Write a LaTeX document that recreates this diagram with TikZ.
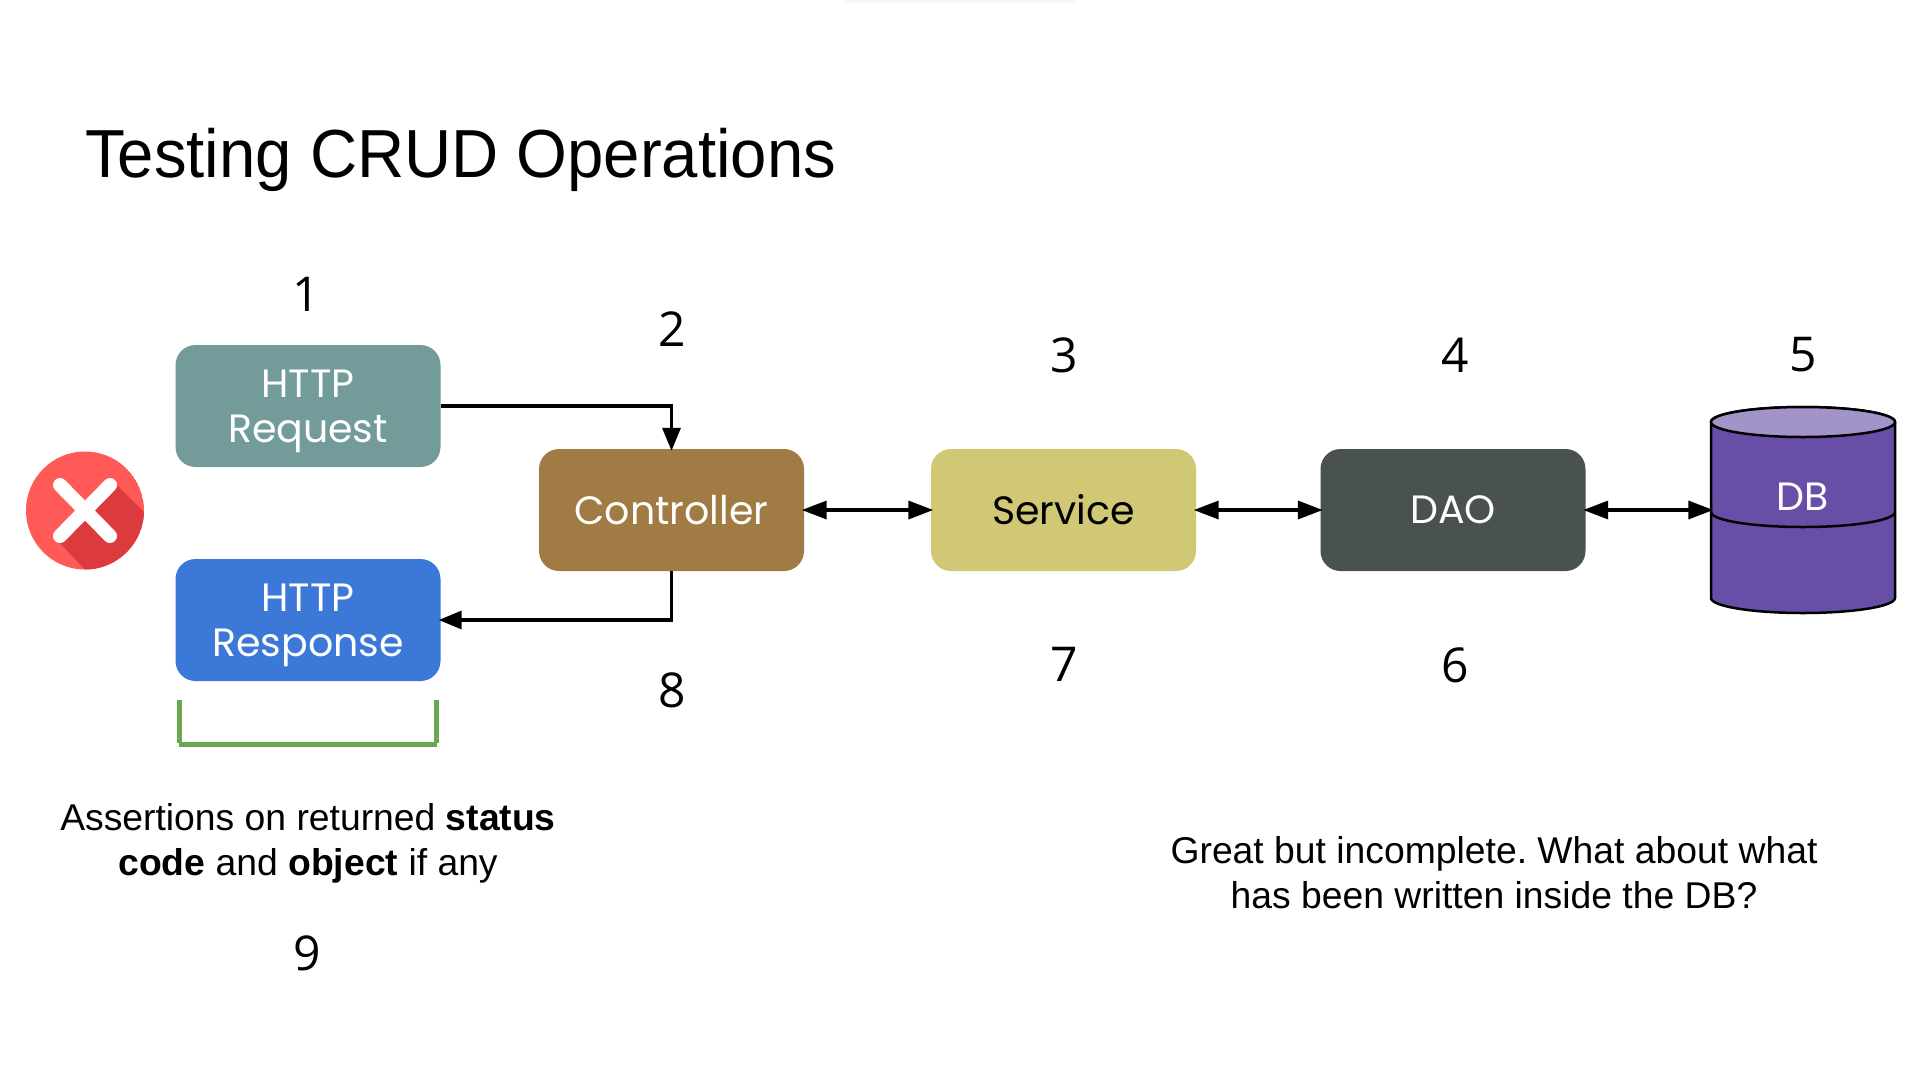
\documentclass[tikz,border=0pt]{standalone}
\usepackage{fontspec}
\setmainfont{Liberation Sans}
\newfontfamily\titlefont[FakeStretch=0.96]{Liberation Sans}
\newfontfamily\boxfont{Poppins}
\newfontfamily\numfont{Open Sans}
\usetikzlibrary{arrows.meta,shadings}
\definecolor{reqcol}{HTML}{739B99}
\definecolor{respcol}{HTML}{3C78D8}
\definecolor{ctrlcol}{HTML}{A07B43}
\definecolor{servcol}{HTML}{D0C875}
\definecolor{daocol}{HTML}{4A5250}
\definecolor{dbcol}{HTML}{674EA7}
\definecolor{dbtop}{HTML}{A294C8}
\definecolor{brk}{HTML}{6AA84F}
\definecolor{iconred}{HTML}{FF5A57}
\definecolor{icondark}{HTML}{DC3A3C}
\tikzset{
  x=1pt,y=-1pt,
  flowbox/.style={rectangle,rounded corners=20pt,minimum width=265pt,minimum height=122pt,inner sep=0pt,align=center,
    font=\fontsize{39.5}{45}\selectfont\boxfont,text=white},
  boxtext/.style={inner sep=0pt,align=center,yshift=-5pt,font=\fontsize{39.5}{45}\selectfont\boxfont,text=white},
  stepnum/.style={inner sep=0pt,font=\fontsize{48}{50}\selectfont\numfont,text=black},
  caption/.style={inner sep=0pt,align=center,font=\fontsize{37.3}{45}\selectfont\frenchspacing,text=black},
  link/.style={line width=3.5pt,shorten >=-2pt,-{Triangle[length=23pt,width=18pt]}},
  dlink/.style={line width=3.5pt,shorten >=-2.5pt,shorten <=-2.5pt,{Triangle[length=25pt,width=18pt]}-{Triangle[length=25pt,width=18pt]}},
  bracketline/.style={line width=5pt,brk},
}
\begin{document}
\begin{tikzpicture}
\useasboundingbox (0,0) rectangle (1920,1080);
\fill[white] (0,0) rectangle (1920,1080);
\shade[top color=black!4,bottom color=white] (845,0) rectangle (1075,4);
\node[inner sep=0pt,anchor=west,font=\fontsize{68}{72}\selectfont\titlefont] (title) at (85,160) {Testing CRUD Operations};
\node[flowbox,fill=reqcol,label={[boxtext]center:{HTTP\\Request}}] (req) at (308,406) {};
\node[flowbox,fill=respcol,label={[boxtext]center:{HTTP\\Response}}] (resp) at (308,620) {};
\node[flowbox,fill=ctrlcol] (ctrl) at (671.5,510) {Controller};
\node[flowbox,fill=servcol,text=black] (serv) at (1063.5,510) {Service};
\node[flowbox,fill=daocol] (dao) at (1453,510) {DAO};
% DB cylinder
\path[fill=dbcol,draw=black,line width=2.5pt] (1711,422) -- (1711,598) arc[start angle=180,end angle=0,x radius=92,y radius=15] -- (1895,422) arc[start angle=0,end angle=-180,x radius=92,y radius=15] -- cycle;
\draw[black,line width=2.5pt,fill=dbtop] (1803,422) ellipse[x radius=92,y radius=15];
\draw[black,line width=2.5pt] (1711,512) arc[start angle=180,end angle=0,x radius=92,y radius=15];
\node[rectangle,minimum width=184pt,minimum height=206pt,inner sep=0pt] (db) at (1803,510) {};
\node[inner sep=0pt,font=\fontsize{39.5}{45}\selectfont\boxfont,text=white] (dbl) at (1803,497) {DB};
% connectors
\draw[link] (req.east) -| (ctrl.north);
\draw[link] (ctrl.south) |- (resp.east);
\draw[dlink] (ctrl.east) -- (serv.west);
\draw[dlink] (serv.east) -- (dao.west);
\draw[dlink] (dao.east) -- (db.west);
% icon
\begin{scope}
\clip (85,510.5) circle[radius=59];
\fill[iconred] (85,510.5) circle[radius=59];
\fill[icondark] (115,483) -- (150,518) -- (150,600) -- (90,575) -- (58,541) -- cycle;
\end{scope}
\draw[white,line width=14pt,line cap=round] (60,485) -- (110,536);
\draw[white,line width=14pt,line cap=round] (110,485) -- (60,536);
% bracket
\draw[bracketline] (179.5,700) -- (179.5,743);
\draw[bracketline] (436,700) -- (436,743);
\draw[bracketline] (179,744) -- (437,744);
% numbers
\node[stepnum] (n1) at (306,294) {1};
\node[stepnum] (n2) at (672,329) {2};
\node[stepnum] (n3) at (1064,355) {3};
\node[stepnum] (n4) at (1455,355) {4};
\node[stepnum] (n5) at (1803,355) {5};
\node[stepnum] (n6) at (1455,665) {6};
\node[stepnum] (n7) at (1064,664) {7};
\node[stepnum] (n8) at (672,690) {8};
\node[stepnum] (n9) at (307,953) {9};
\node[caption] (c1) at (308,843.5) {Assertions on returned \textbf{status}\\\textbf{code} and \textbf{object} if any};
\node[caption] (c2) at (1494,873) {Great but incomplete. What about what\\has been written inside the DB?};
\end{tikzpicture}
\end{document}
